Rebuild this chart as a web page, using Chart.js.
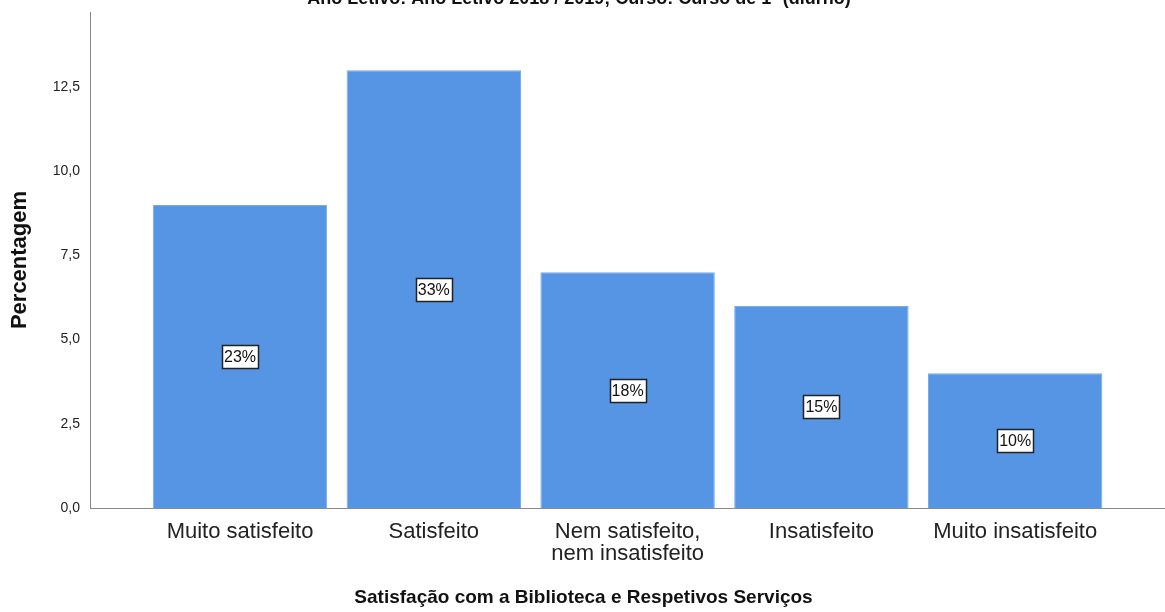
<!DOCTYPE html>
<html>
<head>
<meta charset="utf-8">
<script src="https://cdn.jsdelivr.net/npm/chart.js@4/dist/chart.umd.min.js"></script>
<style>
  html, body { margin: 0; padding: 0; background: #fff; }
  #wrap { width: 1165px; height: 612px; position: relative; }
</style>
</head>
<body>
<div id="wrap"><canvas id="c" width="1165" height="612"></canvas></div>
<script>
const topTitle = 'Ano Letivo: Ano Letivo 2018 / 2019; Curso: Curso de 1º (diurno)';
const categories = [['Muito satisfeito'], ['Satisfeito'], ['Nem satisfeito,', 'nem insatisfeito'], ['Insatisfeito'], ['Muito insatisfeito']];
const values = [9, 13, 7, 6, 4];
const pctLabels = ['23%', '33%', '18%', '15%', '10%'];
const yTicks = [0, 2.5, 5, 7.5, 10, 12.5];
const xTitle = 'Satisfação com a Biblioteca e Respetivos Serviços';
const yTitle = 'Percentagem';

const FONT = '"Liberation Sans", Arial, sans-serif';

const boxLabels = {
  id: 'boxLabels',
  afterDatasetsDraw(chart) {
    const ctx = chart.ctx;
    const meta = chart.getDatasetMeta(0);
    ctx.save();
    ctx.font = '16px ' + FONT;
    ctx.textAlign = 'center';
    ctx.textBaseline = 'middle';
    meta.data.forEach((bar, i) => {
      const cx = bar.x;
      const cy = (bar.y + bar.base) / 2;
      const t = pctLabels[i];
      const w = Math.round(ctx.measureText(t).width + 4);
      const h = 23;
      const x0 = Math.round(cx - w / 2) + 0.5;
      const y0 = Math.round(cy - h / 2) + 0.5;
      ctx.fillStyle = '#ffffff';
      ctx.fillRect(x0, y0, w, h);
      ctx.strokeStyle = '#222222';
      ctx.lineWidth = 1.5;
      ctx.strokeRect(x0, y0, w, h);
      ctx.fillStyle = '#111111';
      ctx.fillText(t, cx, cy + 1);
    });
    ctx.restore();
  },
  afterDraw(chart) {
    const ctx = chart.ctx;
    const W = chart.width;
    ctx.save();
    ctx.fillStyle = '#111';
    ctx.textAlign = 'center';
    ctx.textBaseline = 'alphabetic';
    ctx.font = 'bold 18px ' + FONT;
    ctx.fillText(topTitle, 579, 4);
    ctx.font = 'bold 19px ' + FONT;
    ctx.textBaseline = 'middle';
    ctx.fillText(xTitle, W / 2 + 1, 598);
    ctx.restore();
  }
};

new Chart(document.getElementById('c'), {
  type: 'bar',
  data: {
    datasets: [{
      data: values.map((v, i) => ({ x: i, y: v })),
      backgroundColor: '#5595e3',
      borderColor: '#78acee',
      borderWidth: { left: 1, right: 1, top: 1, bottom: 0 },
      barPercentage: 0.9,
      categoryPercentage: 1.0
    }]
  },
  options: {
    responsive: false,
    animation: false,
    devicePixelRatio: 1,
    layout: { padding: { top: 12, right: 0, left: 0, bottom: 0 } },
    plugins: { legend: { display: false }, tooltip: { enabled: false }, title: { display: false } },
    scales: {
      x: {
        type: 'linear',
        offset: false,
        min: -0.774,
        max: 4.773,
        grid: { display: false, drawTicks: false, offset: false },
        border: { display: true, color: '#8a8a8a', width: 1 },
        afterBuildTicks: (s) => { s.ticks = categories.map((_, i) => ({ value: i })); },
        afterFit: (s) => { s.height = 104; s.paddingLeft = 0; s.paddingRight = 0; },
        ticks: {
          autoSkip: false,
          maxRotation: 0,
          padding: 13,
          color: '#222',
          font: { family: FONT, size: 22, lineHeight: 1.0 },
          callback: (v) => categories[v]
        },
        title: { display: false }
      },
      y: {
        type: 'linear',
        min: 0,
        max: 14.73,
        grid: { display: false, drawTicks: false },
        border: { display: true, color: '#8a8a8a', width: 1 },
        afterBuildTicks: (s) => { s.ticks = yTicks.map(v => ({ value: v })); },
        afterFit: (s) => { s.width = 90; s.paddingTop = 0; s.paddingBottom = 0; },
        ticks: {
          padding: 10,
          color: '#222',
          font: { family: FONT, size: 14 },
          callback: (v) => v.toFixed(1).replace('.', ',')
        },
        title: {
          display: true,
          text: yTitle,
          color: '#111',
          font: { family: FONT, size: 22, weight: 'bold', lineHeight: 1.2 },
          padding: { top: 7, bottom: 0 }
        }
      }
    }
  },
  plugins: [boxLabels]
});
</script>
</body>
</html>
